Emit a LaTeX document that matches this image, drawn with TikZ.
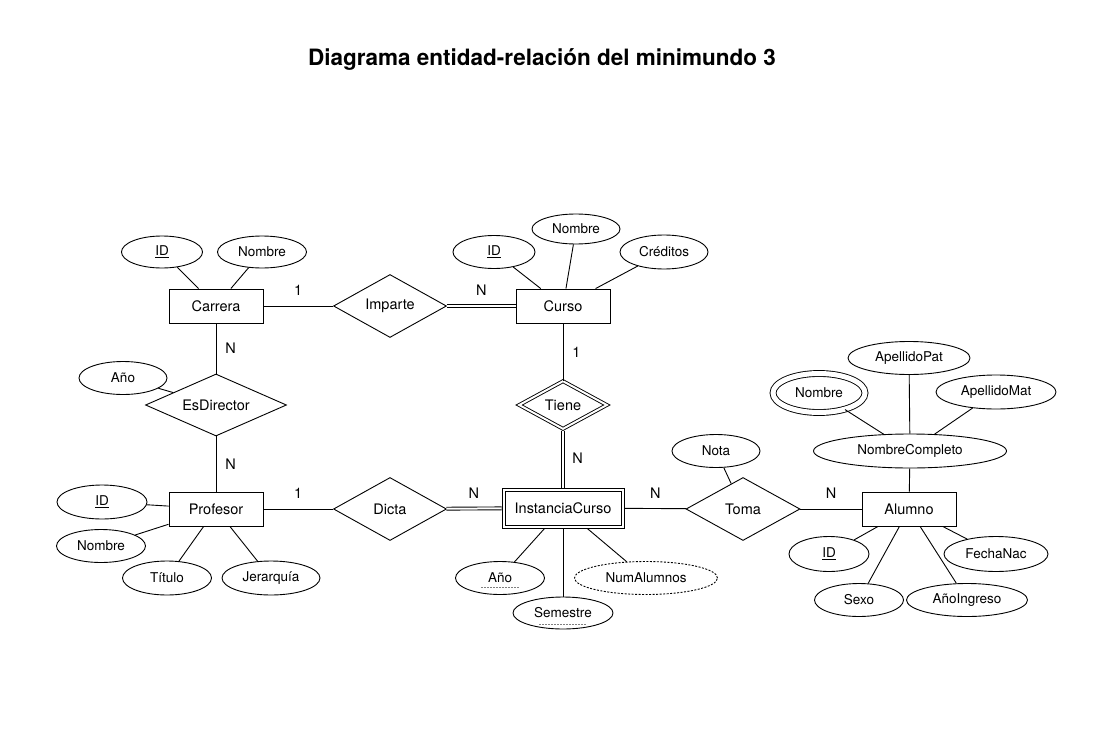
\documentclass[tikz,border=0pt]{standalone}
\usepackage{fontspec}
\setmainfont{TeX Gyre Heros}
\usetikzlibrary{shapes.geometric}

\tikzset{
  entity/.style={draw, rectangle, minimum width=94pt, minimum height=34pt, inner sep=0pt,
    font=\fontsize{14.5}{17}\selectfont},
  weakentity/.style={entity, minimum width=122pt, minimum height=40pt},
  attrib/.style={draw, ellipse, minimum width=88pt, minimum height=33pt, inner sep=0pt,
    font=\fontsize{13.5}{16}\selectfont},
  derived/.style={attrib, dash pattern=on 2pt off 1.5pt},
  multival/.style={attrib, double, double distance=5pt},
  relation/.style={draw, diamond, aspect=1.8, minimum width=113pt, minimum height=63pt, inner sep=0pt,
    font=\fontsize{14.5}{17}\selectfont},
  weakrel/.style={relation, double, double distance=2pt, minimum width=88pt, minimum height=48pt},
  card/.style={midway, inner sep=0pt, font=\fontsize{14.5}{17}\selectfont},
  total/.style={double, double distance=2pt},
  partialkey/.style={gray, line width=0.8pt, dash pattern=on 2pt off 1pt}
}

\begin{document}
\begin{tikzpicture}[x=1pt, y=-1pt, line width=0.9pt]
    \useasboundingbox (0,0) rectangle (1107,754);

    % Title
    \node[font=\fontsize{22.5}{26}\selectfont\bfseries] (title) at (542,59) {Diagrama entidad-relación del minimundo 3};

    % Carrera
    \node[entity] (carrera) at (216,306) {Carrera};
    \node[attrib, minimum width=81pt, minimum height=32pt] (carID) at (162,252) {\underline{ID}};
    \node[attrib, minimum width=89pt, minimum height=32pt] (carNombre) at (262,252) {Nombre};
    \draw (carID) -- (carrera);
    \draw (carNombre) -- (carrera);

    % Curso
    \node[relation] (imparte) at (390,306) {Imparte};
    \node[entity] (curso) at (563,306) {Curso};
    \node[attrib, minimum width=82pt] (curID) at (494,252) {\underline{ID}};
    \node[attrib, minimum height=30pt] (curNombre) at (576,229) {Nombre};
    \node[attrib, minimum height=34pt] (curCreditos) at (664,252) {Créditos};
    \draw (curID) -- (curso);
    \draw (curNombre) -- (curso);
    \draw (curCreditos) -- (curso);
    \draw (carrera) -- node[card, above=10pt] {1} (imparte);
    \draw[total] (imparte) -- node[card, above=10pt] {N} (curso);

    % EsDirector
    \node[relation, aspect=2.27, minimum width=141pt, minimum height=62pt] (esDirector) at (216,405) {EsDirector};
    \node[attrib] (edAno) at (123,378) {Año};
    \draw (edAno) -- (esDirector);

    % Profesor
    \node[entity] (profesor) at (216,509) {Profesor};
    \node[attrib, minimum width=90pt, minimum height=34pt] (profID) at (102,502) {\underline{ID}};
    \node[attrib, minimum width=89pt] (profNombre) at (101,546) {Nombre};
    \node[attrib, minimum width=89pt, minimum height=34pt] (profTitulo) at (167,578) {Título};
    \node[attrib, minimum width=98pt, minimum height=34pt] (profJerarquia) at (271,578) {Jerarquía};
    \draw (profID) -- (profesor);
    \draw (profNombre) -- (profesor);
    \draw (profTitulo) -- (profesor);
    \draw (profJerarquia) -- (profesor);
    \draw (carrera) -- node[card, right=9pt] {N} (esDirector);
    \draw (esDirector) -- node[card, right=9pt] {N} (profesor);

    % InstanciaCurso (weak entity, inner frame)
    \node[weakrel] (tiene) at (563,405) {Tiene};
    \node[weakentity] (instCurso) at (563,508) {InstanciaCurso};
    \draw ([shift={(3.5pt,3.5pt)}]instCurso.south west) rectangle ([shift={(-3.5pt,-3.5pt)}]instCurso.north east);
    \node[attrib, minimum width=89pt] (icAno) at (500,578) {Año};
    \node[attrib, minimum width=100pt, minimum height=32pt] (icSemestre) at (563,613) {Semestre};
    \node[derived, minimum width=143pt] (icNumAlumnos) at (646,578) {NumAlumnos};
    \draw[partialkey] ([xshift=-19pt, yshift=-5pt]icAno.base) -- ([xshift=19pt, yshift=-5pt]icAno.base);
    \draw[partialkey] ([xshift=-24pt, yshift=-6pt]icSemestre.base) -- ([xshift=24pt, yshift=-6pt]icSemestre.base);
    \draw (icAno) -- (instCurso);
    \draw (icSemestre) -- (instCurso);
    \draw (icNumAlumnos) -- (instCurso);
    \draw (curso) -- node[card, right=9pt] {1} (tiene);
    \draw[total, shorten <=1.8pt] (tiene) -- node[card, right=9pt] {N} (instCurso);

    % Dicta
    \node[relation] (dicta) at (390,509) {Dicta};
    \draw (profesor) -- node[card, above=10pt] {1} (dicta);
    \draw[total] (dicta) -- node[card, above=10pt] {N} (instCurso);

    % Toma
    \node[relation, minimum width=114pt] (toma) at (743,509) {Toma};
    \node[attrib] (tomaNota) at (716,451) {Nota};
    \draw (tomaNota) -- (toma);

    % Alumno
    \node[entity] (alumno) at (909,509) {Alumno};
    \node[attrib, minimum width=193pt, minimum height=34pt] (alNombreCompleto) at (910,451) {NombreCompleto};
    \node[attrib, minimum width=122pt] (alApellidoPat) at (909,358) {ApellidoPat};
    \node[multival, minimum width=92pt, minimum height=39pt] (alNombre) at (819,393) {Nombre};
    \node[attrib, minimum width=120pt, minimum height=34pt] (alApellidoMat) at (996,392) {ApellidoMat};
    \node[attrib, minimum width=80pt, minimum height=35pt] (alID) at (829,554) {\underline{ID}};
    \node[attrib, minimum width=104pt, minimum height=35pt] (alFechaNac) at (996,554) {FechaNac};
    \node[attrib, minimum width=89pt] (alSexo) at (859,600) {Sexo};
    \node[attrib, minimum width=121pt] (alAnoIngreso) at (967,600) {AñoIngreso};
    \draw (alNombre) -- (alNombreCompleto);
    \draw (alApellidoPat) -- (alNombreCompleto);
    \draw (alApellidoMat) -- (alNombreCompleto);
    \draw (alNombreCompleto) -- (alumno);
    \draw (alID) -- (alumno);
    \draw (alFechaNac) -- (alumno);
    \draw (alSexo) -- (alumno);
    \draw (alAnoIngreso) -- (alumno);
    \draw (instCurso) -- node[card, above=10pt] {N} (toma);
    \draw (toma) -- node[card, above=10pt] {N} (alumno);
\end{tikzpicture}
\end{document}
